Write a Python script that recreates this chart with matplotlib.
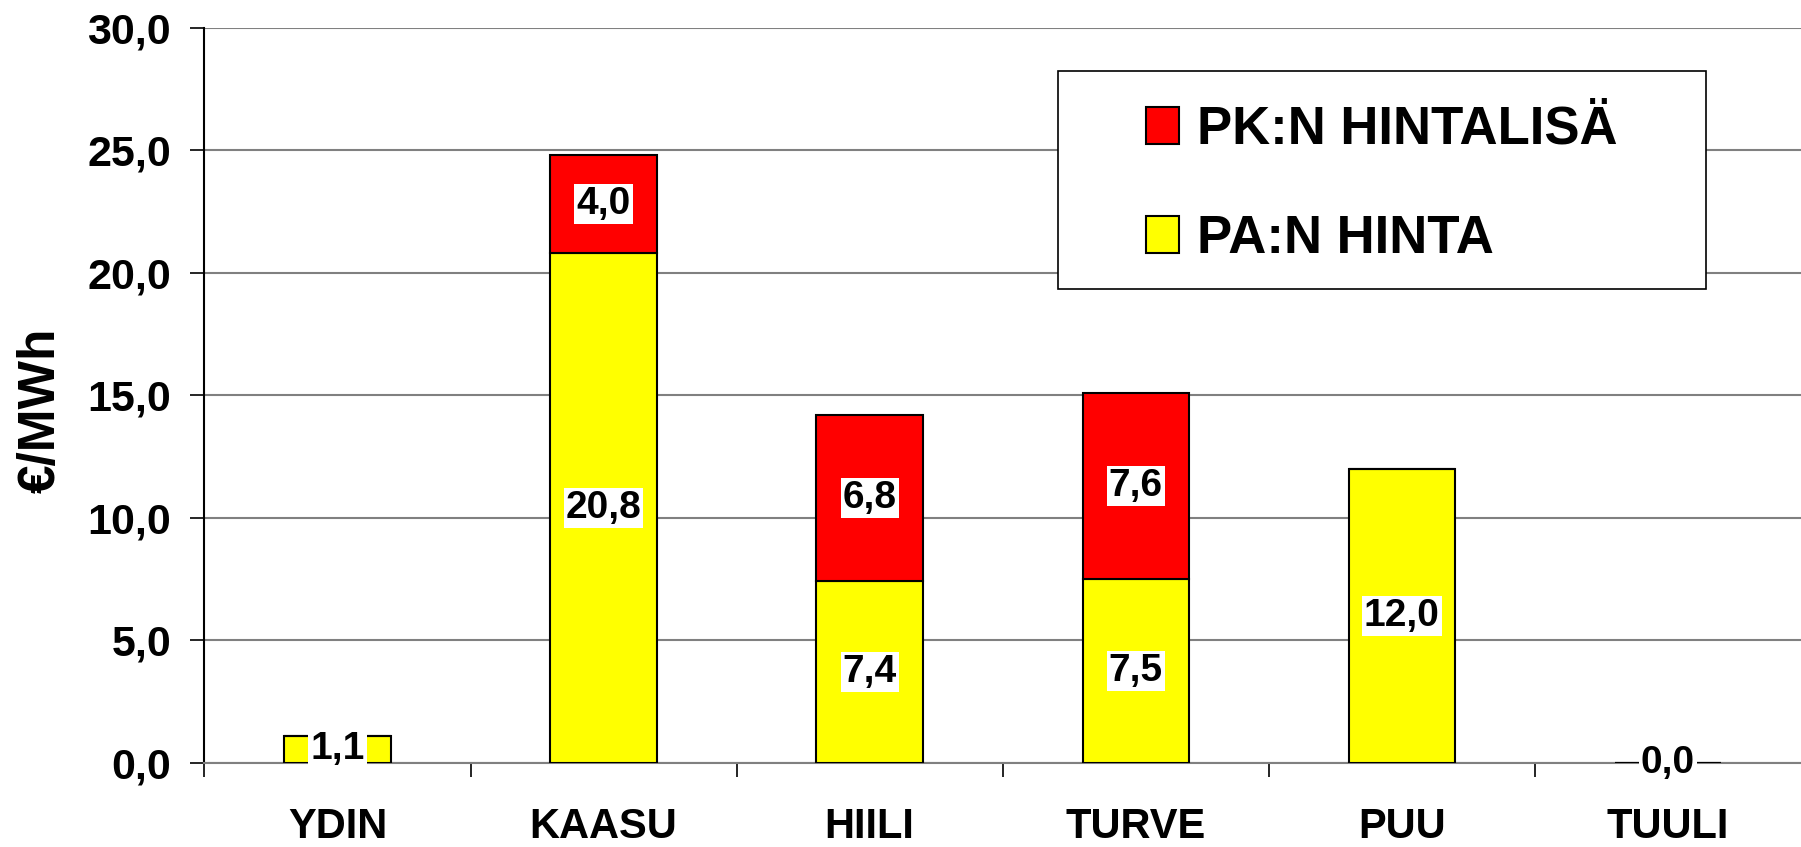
import matplotlib
matplotlib.use('Agg')
import matplotlib.pyplot as plt
from matplotlib.patches import Rectangle, Patch

categories = ['YDIN', 'KAASU', 'HIILI', 'TURVE', 'PUU', 'TUULI']
pa_hinta = [1.1, 20.8, 7.4, 7.5, 12.0, 0.0]
pk_lisa = [0.0, 4.0, 6.8, 7.6, 0.0, 0.0]
yticks = [0, 5, 10, 15, 20, 25, 30]
legend_labels = ['PK:N HINTALISÄ', 'PA:N HINTA']

plt.rcParams['font.family'] = ['Liberation Sans', 'DejaVu Sans']
plt.rcParams['font.weight'] = 'bold'

fig = plt.figure(figsize=(18.01, 8.47), dpi=100)
ax = fig.add_axes([0.1135, 0.0995, 0.8865, 0.8679])

x = list(range(len(categories)))
w = 0.4
b1 = ax.bar(x, pa_hinta, w, color='#FFFF00', edgecolor='black', linewidth=1.5, zorder=3)
b2 = ax.bar(x, pk_lisa, w, bottom=pa_hinta, color='#FF0000', edgecolor='black',
            linewidth=1.5, zorder=3)

fmt = lambda v: ('%.1f' % v).replace('.', ',')
lbl_box = dict(facecolor='white', edgecolor='none', pad=1.5)
for i in x:
    ax.text(i, pa_hinta[i] / 2, fmt(pa_hinta[i]), ha='center', va='center',
            fontsize=28, fontweight='bold', bbox=lbl_box, zorder=5)
    if pk_lisa[i] > 0:
        ax.text(i, pa_hinta[i] + pk_lisa[i] / 2, fmt(pk_lisa[i]), ha='center',
                va='center', fontsize=28, fontweight='bold', bbox=lbl_box, zorder=5)

ax.set_xlim(-0.5, len(categories) - 0.5)
ax.set_ylim(0, 30)
ax.set_yticks(yticks)
ax.set_yticklabels([fmt(v) for v in yticks], fontsize=31, fontweight='bold')
ax.set_xticks(x)
ax.set_xticklabels(categories, fontsize=30, fontweight='bold')
ax.set_xticks([i - 0.5 for i in x], minor=True)
ax.tick_params(axis='x', which='major', length=0, pad=32)
ax.tick_params(axis='x', which='minor', length=10, width=1.2, color='black')
ax.tick_params(axis='y', length=10, width=1.2, pad=14)

ax.yaxis.grid(True, color='#808080', linewidth=1.5, zorder=0)
ax.set_axisbelow(True)
for s in ['top', 'right']:
    ax.spines[s].set_visible(False)
ax.spines['left'].set_linewidth(1.5)
ax.spines['bottom'].set_color('#808080')
ax.spines['bottom'].set_linewidth(1.5)

ax.set_ylabel('€/MWh', fontsize=37, fontweight='bold')
ax.yaxis.set_label_coords(-0.087, 0.48)

# legend box
ax.add_patch(Rectangle((0.5346, 0.644), 0.406, 0.297, transform=ax.transAxes,
                       facecolor='white', edgecolor='black', linewidth=1.2, zorder=6))
handles = [Patch(facecolor='#FF0000', edgecolor='black', linewidth=1.5),
           Patch(facecolor='#FFFF00', edgecolor='black', linewidth=1.5)]
leg = ax.legend(handles, legend_labels, loc='center', bbox_to_anchor=(0.7376, 0.787),
                frameon=False, prop={'size': 38, 'weight': 'bold'},
                handlelength=0.62, handleheight=0.7, handletextpad=0.35,
                labelspacing=1.12)
leg.set_zorder(7)

fig.savefig('out.png', dpi=100)
